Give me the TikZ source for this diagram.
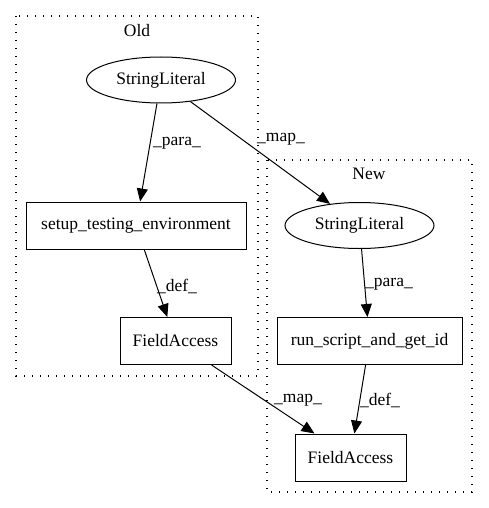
\documentclass[tikz,border=0pt]{standalone}
\usepackage{fontspec}
\setmainfont{Liberation Serif}
\usetikzlibrary{shapes.geometric,arrows.meta}
\tikzset{
	box/.style={draw, line width=1pt, rectangle, inner sep=0pt, minimum height=47pt},
	oval/.style={draw, line width=1pt, ellipse, inner sep=0pt, minimum width=149pt, minimum height=46pt},
	edge/.style={-{Triangle[length=13pt,width=11pt]}, line width=1pt},
	cluster/.style={line width=1.2pt, dash pattern=on 1.2pt off 6.8pt},
	lbl/.style={inner sep=0pt}
}
\begin{document}
\begin{tikzpicture}[x=1pt,y=1pt,font=\fontsize{17.5}{20}\selectfont]
		\useasboundingbox (0,0) rectangle (488,-508);
		
		%clusters
		\draw[cluster] (16,-16) rectangle (258,-376);
		\node[lbl] (oldname) at (137,-31) {Old};
		\draw[cluster] (267,-160) rectangle (472,-492);
		\node[lbl] (newname) at (369,-174) {New};
		
		%old side
		\node[oval] (oldlit) at (161,-80) {StringLiteral};
		\node[box, minimum width=220pt] (setupenv) at (136,-225.5) {setup\_testing\_environment};
		\node[box, minimum width=111pt] (oldfield) at (175.5,-341) {FieldAccess};
		
		%new side
		\node[oval] (newlit) at (359.5,-225.5) {StringLiteral};
		\node[box, minimum width=185pt] (runscript) at (369.5,-341) {run\_script\_and\_get\_id};
		\node[box, minimum width=111pt] (newfield) at (350.5,-457.5) {FieldAccess};
		
		%edges
		\draw[edge] (oldlit) -- (setupenv);
		\node[lbl] (oldpara) at (177,-143) {\_para\_};
		\draw[edge] (setupenv) -- (oldfield);
		\node[lbl] (olddef) at (177,-286) {\_def\_};
		\draw[edge] (oldlit) -- (newlit);
		\node[lbl] (topmap) at (281,-139) {\_map\_};
		\draw[edge] (newlit) -- (runscript);
		\node[lbl] (newpara) at (389,-284) {\_para\_};
		\draw[edge] (runscript) -- (newfield);
		\node[lbl] (newdef) at (380,-400) {\_def\_};
		\draw[edge] (oldfield) -- (newfield);
		\node[lbl] (lowmap) at (298,-400) {\_map\_};
		
	\end{tikzpicture}
\end{document}
